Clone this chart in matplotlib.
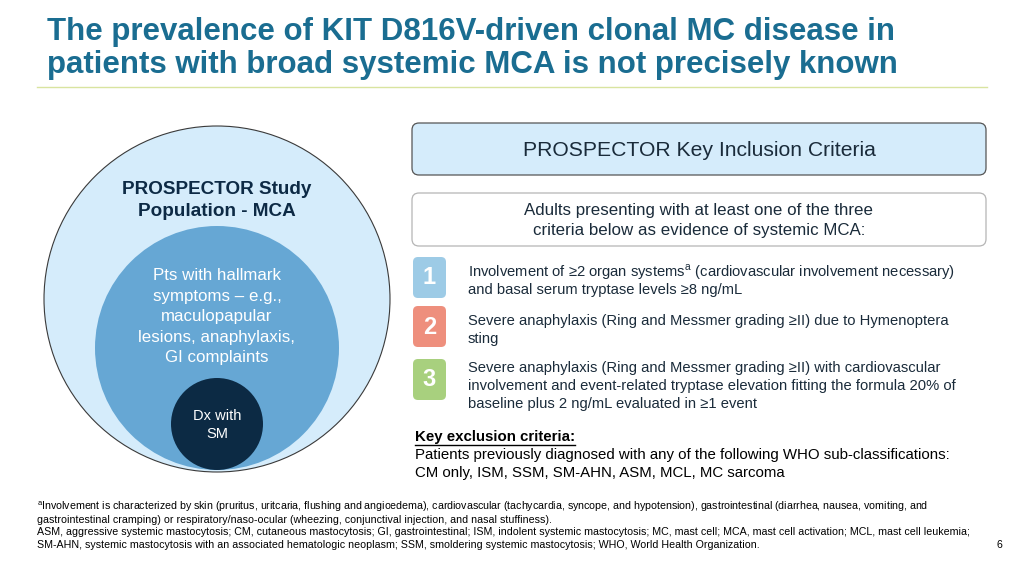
import numpy as np
import matplotlib.pyplot as plt
from matplotlib.patches import Circle, FancyBboxPatch

# ---- slide content ----
title_lines = ['The prevalence of KIT D816V-driven clonal MC disease in',
               'patients with broad systemic MCA is not precisely known']

outer_label = ['PROSPECTOR Study', 'Population - MCA']
middle_label = ['Pts with hallmark', 'symptoms \u2013 e.g.,', 'maculopapular',
                'lesions, anaphylaxis,', 'GI complaints']
inner_label = ['Dx with', 'SM']

header_text = 'PROSPECTOR Key Inclusion Criteria'
intro_lines = ['Adults presenting with at least one of the three',
               'criteria below as evidence of systemic MCA:']

criteria_nums = ['1', '2', '3']
criteria_colors = ['#9dcbe6', '#ee8f7d', '#a8d07e']
criteria_text = [
    ['Involvement of \u22652 organ systems$^{\\mathrm{a}}$ (cardiovascular involvement necessary)',
     'and basal serum tryptase levels \u22658 ng/mL'],
    ['Severe anaphylaxis (Ring and Messmer grading \u2265II) due to Hymenoptera',
     'sting'],
    ['Severe anaphylaxis (Ring and Messmer grading \u2265II) with cardiovascular',
     'involvement and event-related tryptase elevation fitting the formula 20% of',
     'baseline plus 2 ng/mL evaluated in \u22651 event'],
]

excl_head = 'Key exclusion criteria:'
excl_lines = ['Patients previously diagnosed with any of the following WHO sub-classifications:',
              'CM only, ISM, SSM, SM-AHN, ASM, MCL, MC sarcoma']

footnotes = [
    '$^{\\mathrm{a}}$Involvement is characterized by skin (pruritus, uritcaria, flushing and angioedema), cardiovascular (tachycardia, syncope, and hypotension), gastrointestinal (diarrhea, nausea, vomiting, and',
    'gastrointestinal cramping) or respiratory/naso-ocular (wheezing, conjunctival injection, and nasal stuffiness).',
    'ASM, aggressive systemic mastocytosis; CM, cutaneous mastocytosis; GI, gastrointestinal; ISM, indolent systemic mastocytosis; MC, mast cell; MCA, mast cell activation; MCL, mast cell leukemia;',
    'SM-AHN, systemic mastocytosis with an associated hematologic neoplasm; SSM, smoldering systemic mastocytosis; WHO, World Health Organization.',
]
page_no = '6'

plt.rcParams['mathtext.fontset'] = 'custom'
plt.rcParams['mathtext.rm'] = 'Liberation Sans'
SANS = ['Liberation Sans', 'DejaVu Sans']
DARK = '#1a2b3a'

fig = plt.figure(figsize=(10.24, 5.76), dpi=100)
ax = fig.add_axes([0, 0, 1, 1])
ax.set_xlim(0, 1024)
ax.set_ylim(576, 0)
ax.axis('off')

# title
for i, line in enumerate(title_lines):
    ax.text(47, 40 + i * 33.5, line, fontsize=22.5, fontweight='bold', color='#1a6d91',
            family=SANS, va='baseline', ha='left')
ax.plot([37, 987], [87, 87], color='#d9e4a0', lw=1)

# nested circles
ax.add_patch(Circle((217, 299), 173, facecolor='#d5ecfb', edgecolor='#3a3a3a', lw=0.8))
ax.add_patch(Circle((217, 348), 122, facecolor='#66a7d4', edgecolor='none'))
ax.add_patch(Circle((217, 424), 46, facecolor='#0c2a44', edgecolor='none'))

for i, line in enumerate(outer_label):
    ax.text(217, 189 + i * 23, line, fontsize=13.6, fontweight='bold', color='#0d2a45',
            family=SANS, ha='center', va='center')
for i, line in enumerate(middle_label):
    ax.text(217, 276 + i * 20.4, line, fontsize=12.2, color='white',
            family=SANS, ha='center', va='center')
for i, line in enumerate(inner_label):
    ax.text(217, 416 + i * 18, line, fontsize=10.5, color='white',
            family=SANS, ha='center', va='center')

# right side boxes
ax.add_patch(FancyBboxPatch((412, 123), 574, 52, boxstyle='round,pad=0,rounding_size=7',
                            facecolor='#d5ecfb', edgecolor='#555555', lw=0.9))
ax.text(699, 150, header_text, fontsize=15.2, color=DARK, family=SANS, ha='center', va='center')

ax.add_patch(FancyBboxPatch((412, 193), 574, 53, boxstyle='round,pad=0,rounding_size=7',
                            facecolor='white', edgecolor='#b5b5b5', lw=0.9))
for i, line in enumerate(intro_lines):
    ax.text(699, 210 + i * 21, line, fontsize=12.2, color=DARK, family=SANS,
            ha='center', va='center')

box_tops = [257, 306, 359]
text_tops = [272, 321, 368]
for num, col, lines, top, ty in zip(criteria_nums, criteria_colors, criteria_text,
                                    box_tops, text_tops):
    ax.add_patch(FancyBboxPatch((413, top), 33, 41, boxstyle='round,pad=0,rounding_size=5',
                                facecolor=col, edgecolor='none'))
    ax.text(429.5, top + 21, num, fontsize=17, fontweight='bold', color='white',
            family=SANS, ha='center', va='center')
    for j, line in enumerate(lines):
        ax.text(468, ty + j * 17.8, line, fontsize=10.6, color=DARK, family=SANS,
                ha='left', va='center')

# exclusion criteria
t = ax.text(415, 437, excl_head, fontsize=10.8, fontweight='bold', color='black',
            family=SANS, ha='left', va='center')
fig.canvas.draw()
bb = t.get_window_extent(renderer=fig.canvas.get_renderer())
ax.plot([415, 415 + bb.width], [444.5, 444.5], color='black', lw=1)
for i, line in enumerate(excl_lines):
    ax.text(415, 455 + i * 18, line, fontsize=10.8, color='black', family=SANS,
            ha='left', va='center')

# footnotes
for i, line in enumerate(footnotes):
    ax.text(37, 507 + i * 12.6, line, fontsize=7.7, color='black', family=SANS,
            ha='left', va='center')
ax.text(1002, 545, page_no, fontsize=7.7, color='black', family=SANS, ha='right', va='center')

fig.savefig('out.png', dpi=100)
